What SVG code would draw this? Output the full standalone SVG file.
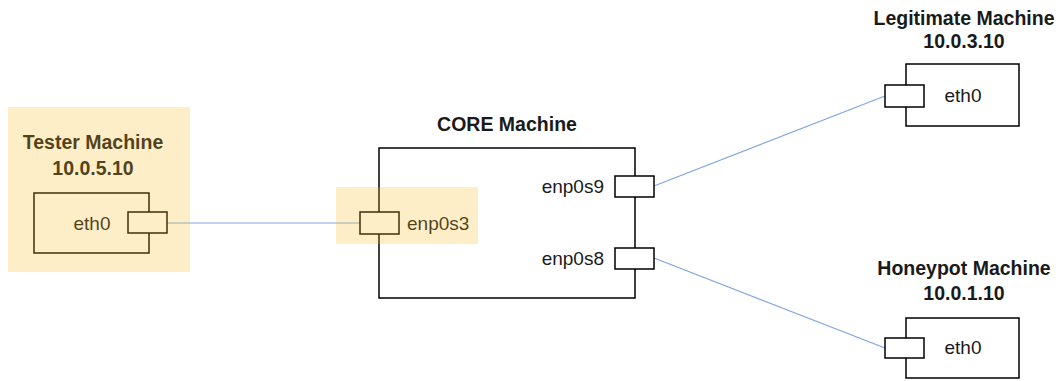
<svg xmlns="http://www.w3.org/2000/svg" width="1062" height="381" viewBox="0 0 1062 381">
  <style>
    .box { fill: #ffffff; stroke: #000000; stroke-width: 1.5; }
    .port { fill: #ffffff; stroke: #000000; stroke-width: 1.5; }
    .title { font-family: "Liberation Sans", Arial, sans-serif; font-size: 19.5px; font-weight: bold; fill: #1a1a1a; text-anchor: middle; }
    .label { font-family: "Liberation Sans", Arial, sans-serif; font-size: 19px; fill: #1a1a1a; }
    .link { fill: none; stroke: #7ea6e0; stroke-width: 1.2; }
    .hl { fill: #f7bb23; fill-opacity: 0.25; }
  </style>
  <rect width="1062" height="381" fill="#ffffff"/>

  <!-- connectors -->
  <g id="connectors">
    <line class="link" x1="167" y1="223" x2="360" y2="223"/>
    <line class="link" x1="654" y1="186" x2="885" y2="96"/>
    <line class="link" x1="654" y1="258" x2="885" y2="348"/>
  </g>

  <!-- tester -->
  <g id="tester">
    <text class="title" x="93" y="149">Tester Machine</text>
    <text class="title" x="93" y="175">10.0.5.10</text>
    <rect class="box" x="34" y="193" width="115" height="60"/>
    <text class="label" x="92" y="230" text-anchor="middle">eth0</text>
    <rect class="port" x="128" y="212" width="39" height="21"/>
    <rect class="hl" x="8" y="107" width="182" height="165"/>
  </g>

  <!-- core router -->
  <g id="core">
    <text class="title" x="507" y="131">CORE Machine</text>
    <rect class="box" x="379" y="148" width="256" height="150"/>
    <rect class="port" x="360" y="212" width="39" height="22"/>
    <text class="label" x="407" y="230">enp0s3</text>
    <rect class="port" x="615" y="176" width="39" height="21"/>
    <text class="label" x="604" y="193" text-anchor="end">enp0s9</text>
    <rect class="port" x="615" y="248" width="39" height="21"/>
    <text class="label" x="604" y="265" text-anchor="end">enp0s8</text>
    <rect class="hl" x="336" y="187" width="142" height="57"/>
  </g>

  <!-- legitimate -->
  <g id="legitimate">
    <text class="title" x="964" y="25">Legitimate Machine</text>
    <text class="title" x="964" y="48">10.0.3.10</text>
    <rect class="box" x="906" y="64" width="113" height="62"/>
    <rect class="port" x="885" y="85" width="39" height="22"/>
    <text class="label" x="963" y="102" text-anchor="middle">eth0</text>
  </g>

  <!-- honeypot -->
  <g id="honeypot">
    <text class="title" x="964" y="275">Honeypot Machine</text>
    <text class="title" x="964" y="300">10.0.1.10</text>
    <rect class="box" x="906" y="318" width="113" height="60"/>
    <rect class="port" x="885" y="338" width="39" height="20"/>
    <text class="label" x="963" y="354" text-anchor="middle">eth0</text>
  </g>
</svg>
